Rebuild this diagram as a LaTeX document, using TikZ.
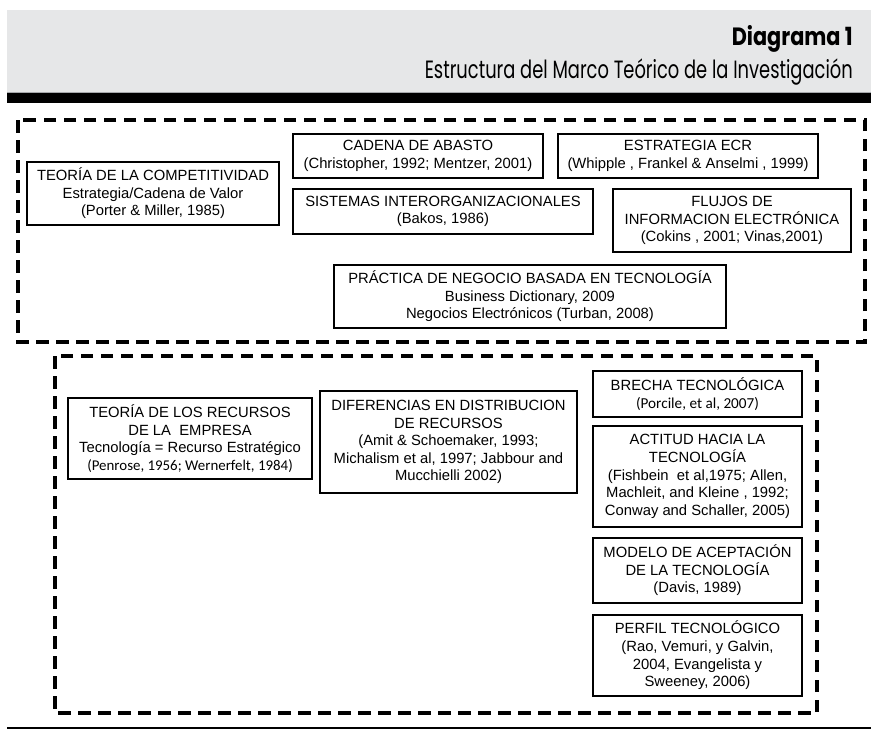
\documentclass[tikz,border=0pt]{standalone}
\usepackage{fontspec}
\usepackage{graphicx}
\setmainfont{Liberation Sans}
\newfontfamily\carlitofont{Carlito}
\newfontfamily\titlefont{Poppins}
\definecolor{bandgray}{HTML}{E6E7E8}
\definecolor{bandline}{HTML}{A7A9AC}
\tikzset{
  bx/.style={draw=black, line width=1.6pt, align=center, inner sep=0pt,
    font=\fontsize{14.8}{17.6}\selectfont},
  dashbox/.style={draw=black, line width=3.3pt, dash pattern=on 12.5pt off 7.5pt},
}
\begin{document}
\begin{tikzpicture}[x=1pt,y=-1pt]
\useasboundingbox (0,0) rectangle (871,729);
% header
\fill[bandgray] (7,10) rectangle (871,92);
\draw[bandline, line width=1pt] (7,92) -- (871,92);
\fill[black] (7,93) rectangle (871,103);
\node[anchor=base east, inner sep=0pt] (title) at (853,45)
  {\resizebox{121pt}{\height}{\titlefont\bfseries\fontsize{25}{30}\selectfont Diagrama 1}};
\node[anchor=base east, inner sep=0pt] (subtitle) at (853,78)
  {\resizebox{428pt}{\height}{\titlefont\fontsize{25}{30}\selectfont Estructura del Marco Teórico de la Investigación}};
% dashed frames
\draw[dashbox] (18,120) rectangle (865,342);
\draw[dashbox] (55,356) rectangle (817,713);
% upper boxes
\node[bx, minimum width=252pt, minimum height=63pt] (competitividad) at (153,193.5)
  {TEORÍA DE LA COMPETITIVIDAD\\ Estrategia/Cadena de Valor\\ (Porter \& Miller, 1985)};
\node[bx, minimum width=250pt, minimum height=44pt] (abasto) at (418,156)
  {CADENA DE ABASTO\\ (Christopher, 1992; Mentzer, 2001)};
\node[bx, minimum width=260pt, minimum height=44pt] (ecr) at (688,156)
  {ESTRATEGIA ECR\\ (Whipple , Frankel \& Anselmi , 1999)};
\node[bx, minimum width=300pt, minimum height=45pt] (sistemas) at (443,211.5)
  {SISTEMAS INTERORGANIZACIONALES\\ (Bakos, 1986)};
\node[bx, minimum width=238pt, minimum height=63pt] (flujos) at (732,220.5)
  {FLUJOS DE\\ INFORMACION ELECTRÓNICA\\ (Cokins , 2001; Vinas,2001)};
\node[bx, minimum width=392pt, minimum height=63pt] (practica) at (530,296.5)
  {PRÁCTICA DE NEGOCIO BASADA EN TECNOLOGÍA\\ Business Dictionary, 2009\\ Negocios Electrónicos (Turban, 2008)};
% lower boxes
\node[bx, minimum width=244pt, minimum height=81pt] (recursos) at (190,438.5)
  {TEORÍA DE LOS RECURSOS\\ DE LA\ \ EMPRESA\\ Tecnología = Recurso Estratégico\\ {\carlitofont\fontsize{14.9}{17.6}\selectfont (Penrose, 1956; Wernerfelt, 1984)}};
\node[bx, minimum width=257pt, minimum height=102pt] (diferencias) at (448.5,442)
  {DIFERENCIAS EN DISTRIBUCION\\ DE RECURSOS\\ (Amit \& Schoemaker, 1993;\\ Michalism et al, 1997; Jabbour and\\ Mucchielli 2002)};
\node[bx, minimum width=209pt, minimum height=46pt] (brecha) at (697.5,394)
  {BRECHA TECNOLÓGICA\\ {\carlitofont\fontsize{15.2}{17.6}\selectfont (Porcile, et al, 2007)}};
\node[bx, minimum width=209pt, minimum height=101pt] (actitud) at (697.5,476.5)
  {ACTITUD HACIA LA\\ TECNOLOGÍA\\ (Fishbein\ \ et al,1975; Allen,\\ Machleit, and Kleine , 1992;\\ Conway and Schaller, 2005)};
\node[bx, minimum width=209pt, minimum height=65pt] (modelo) at (697.5,570.5)
  {MODELO DE ACEPTACIÓN\\ DE LA TECNOLOGÍA\\ (Davis, 1989)};
\node[bx, minimum width=209pt, minimum height=81pt] (perfil) at (697.5,655.5)
  {PERFIL TECNOLÓGICO\\ (Rao, Vemuri, y Galvin,\\ 2004, Evangelista y\\ Sweeney, 2006)};
% bottom rule
\draw[black, line width=1.2pt] (7,728) -- (871,728);
\end{tikzpicture}
\end{document}
